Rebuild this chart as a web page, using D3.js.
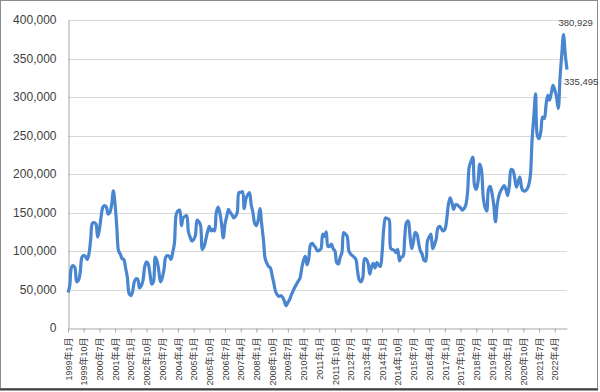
<!DOCTYPE html>
<html>
<head>
<meta charset="utf-8">
<script src="https://cdn.jsdelivr.net/npm/d3@7"></script>
<style>
  body { margin: 0; background: #fff; }
  svg text { font-family: "Liberation Sans", "Noto Sans CJK JP", sans-serif; fill: #404040; }
</style>
</head>
<body>
<div id="chart"></div>
<script>
// monthly values, Jan..Dec of each year
var v1999 = [46000, 55000, 79000, 81000, 78000, 60000, 62000, 72000, 92000, 94000, 93000, 89000];
var v2000 = [96000, 115000, 136000, 137000, 135000, 118000, 128000, 145000, 157000, 159000, 157000, 148000];
var v2001 = [150000, 160000, 178000, 160000, 130000, 100000, 96000, 90000, 89000, 78000, 66000, 45000];
var v2002 = [42000, 47000, 60000, 64000, 63000, 52000, 55000, 62000, 80000, 86000, 83000, 70000];
var v2003 = [57000, 60000, 92000, 87000, 75000, 60000, 65000, 76000, 92000, 94000, 93000, 89000];
var v2004 = [98000, 110000, 147000, 152000, 153000, 133000, 143000, 145000, 146000, 125000, 118000, 113000];
var v2005 = [115000, 120000, 140000, 138000, 133000, 102000, 106000, 115000, 125000, 132000, 126000, 128000];
var v2006 = [126000, 150000, 157000, 150000, 135000, 117000, 135000, 145000, 154000, 150000, 147000, 143000];
var v2007 = [145000, 150000, 176000, 176000, 177000, 155000, 168000, 173000, 176000, 160000, 150000, 136000];
var v2008 = [133000, 140000, 155000, 135000, 115000, 90000, 84000, 80000, 78000, 68000, 58000, 47000];
var v2009 = [43000, 41000, 42000, 40000, 35000, 29000, 33000, 37000, 43000, 48000, 53000, 57000];
var v2010 = [61000, 65000, 78000, 88000, 93000, 82000, 90000, 108000, 110000, 107000, 104000, 100000];
var v2011 = [101000, 103000, 122000, 119000, 125000, 106000, 106000, 109000, 103000, 100000, 85000, 83000];
var v2012 = [92000, 98000, 124000, 122000, 119000, 100000, 96000, 94000, 92000, 89000, 73000, 62000];
var v2013 = [60000, 66000, 90000, 89000, 84000, 70000, 80000, 84000, 78000, 85000, 82000, 80000];
var v2014 = [97000, 130000, 143000, 142000, 141000, 103000, 102000, 101000, 98000, 102000, 87000, 92000];
var v2015 = [93000, 118000, 137000, 139000, 120000, 103000, 112000, 124000, 122000, 110000, 100000, 96000];
var v2016 = [88000, 87000, 113000, 118000, 122000, 103000, 108000, 115000, 130000, 132000, 129000, 126000];
var v2017 = [128000, 140000, 160000, 169000, 163000, 154000, 160000, 160000, 158000, 156000, 153000, 155000];
var v2018 = [160000, 176000, 210000, 216000, 222000, 185000, 180000, 190000, 213000, 205000, 170000, 157000];
var v2019 = [152000, 180000, 184000, 175000, 160000, 138000, 160000, 172000, 178000, 182000, 185000, 180000];
var v2020 = [172000, 186000, 206000, 205000, 195000, 183000, 190000, 196000, 182000, 178000, 178000, 180000];
var v2021 = [185000, 198000, 245000, 275000, 304000, 250000, 246000, 255000, 274000, 272000, 290000, 302000];
var v2022 = [296000, 305000, 315000, 309000, 300000, 285000, 325000, 355000, 380929, 355000, 335495];

var years = [v1999, v2000, v2001, v2002, v2003, v2004, v2005, v2006, v2007, v2008, v2009, v2010,
             v2011, v2012, v2013, v2014, v2015, v2016, v2017, v2018, v2019, v2020, v2021, v2022];

// category labels shown on the axis (every 9th month)
var tickLabels = ["1999年1月", "1999年10月", "2000年7月", "2001年4月", "2002年1月", "2002年10月",
  "2003年7月", "2004年4月", "2005年1月", "2005年10月", "2006年7月", "2007年4月", "2008年1月",
  "2008年10月", "2009年7月", "2010年4月", "2011年1月", "2011年10月", "2012年7月", "2013年4月",
  "2014年1月", "2014年10月", "2015年7月", "2016年4月", "2017年1月", "2017年10月", "2018年7月",
  "2019年4月", "2020年1月", "2020年10月", "2021年7月", "2022年4月"];
var tickStep = 9;

var yTicks = [0, 50000, 100000, 150000, 200000, 250000, 300000, 350000, 400000];

(function () {
    var values = [].concat.apply([], years);
    var n = values.length;

    var width = 600, height = 392;
    var mLeft = 68, mRight = 567, mTop = 20, mBottom = 328;

    var svg = d3.select("#chart").append("svg").attr("width", width).attr("height", height);

    // frame
    svg.append("rect").attr("x", 0.5).attr("y", 0.5).attr("width", 597).attr("height", 388)
        .attr("fill", "#fff").attr("stroke", "#8c8c8c");
    svg.append("line").attr("x1", 0).attr("x2", 598).attr("y1", 389.5).attr("y2", 389.5)
        .attr("stroke", "#404040").attr("stroke-width", 2);

    var x = d3.scaleLinear().domain([0, n - 1]).range([mLeft, mRight]);
    var y = d3.scaleLinear().domain([0, 400000]).range([mBottom, mTop]);

    // gridlines
    svg.append("g").selectAll("line").data(yTicks.slice(1)).enter().append("line")
        .attr("x1", mLeft).attr("x2", mRight)
        .attr("y1", function (d) { return Math.round(y(d)) + 0.5; })
        .attr("y2", function (d) { return Math.round(y(d)) + 0.5; })
        .attr("stroke", "#d9d9d9");

    // y axis
    var yAxis = svg.append("g").attr("transform", "translate(" + (mLeft + 0.5) + ",0)")
        .call(d3.axisLeft(y).tickValues(yTicks).tickFormat(d3.format(",")).tickSize(0).tickPadding(12));
    yAxis.select(".domain").attr("stroke", "#a6a6a6");
    yAxis.selectAll("text").style("font-size", "12px").attr("fill", "#404040")
        .style("font-family", "Liberation Sans, sans-serif");

    // x axis
    var tickIdx = tickLabels.map(function (d, i) { return i * tickStep; });
    var xAxis = svg.append("g").attr("transform", "translate(0," + (mBottom + 0.5) + ")")
        .call(d3.axisBottom(x).tickValues(tickIdx).tickSize(4).tickSizeOuter(0)
            .tickFormat(function (d, i) { return tickLabels[i]; }));
    xAxis.select(".domain").attr("stroke", "#a6a6a6");
    xAxis.selectAll(".tick line").attr("stroke", "#a6a6a6");
    xAxis.selectAll("text")
        .style("font-size", "9px").attr("fill", "#404040")
        .style("font-family", "Liberation Sans, Noto Sans CJK JP, sans-serif")
        .attr("text-anchor", "end")
        .attr("transform", "rotate(-90)")
        .attr("x", -9).attr("y", 0).attr("dy", "0.35em");

    // line
    var line = d3.line()
        .x(function (d, i) { return x(i); })
        .y(function (d) { return y(d); })
        .curve(d3.curveCatmullRom.alpha(0.5));

    svg.append("path").datum(values)
        .attr("d", line)
        .attr("fill", "none")
        .attr("stroke", "#4a86d0")
        .attr("stroke-width", 3.2)
        .attr("stroke-linejoin", "round");

    // data labels: peak and last value
    var peakIdx = d3.maxIndex(values);
    var fmt = d3.format(",");
    svg.append("text").attr("x", x(peakIdx) - 5).attr("y", y(values[peakIdx]) - 9)
        .style("font-size", "9.5px").text(fmt(values[peakIdx]));
    svg.append("text").attr("x", x(n - 1) - 3).attr("y", y(values[n - 1]) + 15)
        .style("font-size", "9.5px").text(fmt(values[n - 1]));
})();
</script>
</body>
</html>
